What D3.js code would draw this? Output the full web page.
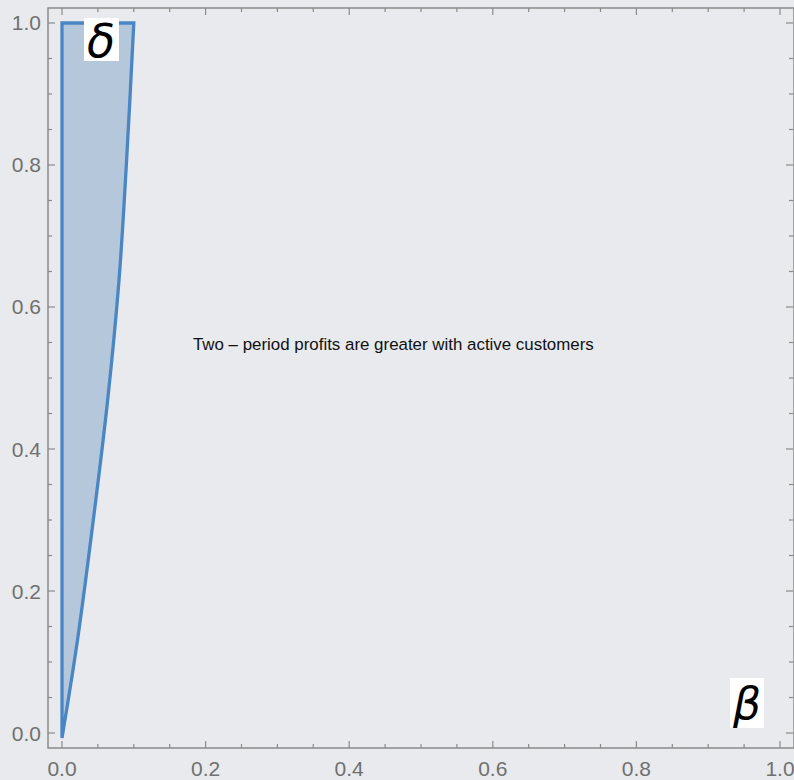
<!DOCTYPE html>
<html>
<head>
<meta charset="utf-8">
<script src="https://cdn.jsdelivr.net/npm/d3@7"></script>
<style>
  html, body { margin: 0; padding: 0; background: #e8eaed; }
  svg { display: block; }
</style>
</head>
<body>
<div id="chart"></div>
<script>
// region boundary (beta, delta), bottom to top
var boundaryBeta = [0, 0.0216, 0.0436, 0.0636, 0.0794, 0.090, 0.100];
var boundaryDelta = [-0.007, 0.131, 0.300, 0.469, 0.638, 0.807, 1.0];
var topDelta = 1.0;
var majorTicks = [0, 0.2, 0.4, 0.6, 0.8, 1.0];
var minorTicks = d3.range(0, 1.0001, 0.05);
var regionLabel = "Two \u2013 period profits are greater with active customers";

var width = 794, height = 780;
var svg = d3.select("#chart").append("svg")
    .attr("width", width)
    .attr("height", height);

svg.append("rect").attr("width", width).attr("height", height).attr("fill", "#e8eaed");

var x = d3.scaleLinear().domain([-0.0195, 1.0195]).range([48, 794]);
var y = d3.scaleLinear().domain([-0.0211, 1.0211]).range([748, 8]);

// region polygon: left edge up, across the top, down the curve
var pts = [[0, boundaryDelta[0]], [0, topDelta]];
for (var i = boundaryBeta.length - 1; i >= 0; i--) {
    pts.push([boundaryBeta[i], boundaryDelta[i]]);
}
var upper = d3.line()
    .x(function (d) { return x(d[0]); })
    .y(function (d) { return y(d[1]); });
var curve = d3.line()
    .x(function (d) { return x(d[0]); })
    .y(function (d) { return y(d[1]); })
    .curve(d3.curveCatmullRom);
var curvePts = pts.slice(2);
var path = upper(pts.slice(0, 3)) + curve(curvePts).replace(/^M[^A-Za-z]*/, "") + "Z";

svg.append("path")
    .attr("d", path)
    .attr("fill", "#b4c7db")
    .attr("stroke", "#4a86c4")
    .attr("stroke-width", 3.3)
    .attr("stroke-linejoin", "miter");

// frame with ticks
var axisColor = "#8a8a8a";
var frame = svg.append("g");
frame.append("rect")
    .attr("x", x.range()[0]).attr("y", y.range()[1])
    .attr("width", x.range()[1] - x.range()[0])
    .attr("height", y.range()[0] - y.range()[1])
    .attr("fill", "none").attr("stroke", axisColor).attr("stroke-width", 1.5);

minorTicks.forEach(function (t) {
    var major = majorTicks.some(function (m) { return Math.abs(m - t) < 1e-6; });
    var len = major ? 7 : 4;
    // bottom & top
    frame.append("line").attr("x1", x(t)).attr("x2", x(t))
        .attr("y1", y.range()[0]).attr("y2", y.range()[0] - len)
        .attr("stroke", axisColor).attr("stroke-width", 1.2);
    frame.append("line").attr("x1", x(t)).attr("x2", x(t))
        .attr("y1", y.range()[1]).attr("y2", y.range()[1] + len)
        .attr("stroke", axisColor).attr("stroke-width", 1.2);
    // left & right
    frame.append("line").attr("y1", y(t)).attr("y2", y(t))
        .attr("x1", x.range()[0]).attr("x2", x.range()[0] + len)
        .attr("stroke", axisColor).attr("stroke-width", 1.2);
    frame.append("line").attr("y1", y(t)).attr("y2", y(t))
        .attr("x1", x.range()[1] - 1).attr("x2", x.range()[1] - 1 - len)
        .attr("stroke", axisColor).attr("stroke-width", 1.2);
});

var fmt = d3.format(".1f");
svg.selectAll(".xlab").data(majorTicks).enter().append("text")
    .attr("x", function (d) { return x(d); })
    .attr("y", 776)
    .attr("text-anchor", "middle")
    .attr("font-family", "Liberation Sans, Arial, sans-serif")
    .attr("font-size", 21)
    .attr("fill", "#707070")
    .text(fmt);
svg.selectAll(".ylab").data(majorTicks).enter().append("text")
    .attr("x", 41)
    .attr("y", function (d) { return y(d) + 7.5; })
    .attr("text-anchor", "end")
    .attr("font-family", "Liberation Sans, Arial, sans-serif")
    .attr("font-size", 21)
    .attr("fill", "#707070")
    .text(fmt);

// region annotation
svg.append("text")
    .attr("x", x(0.4615)).attr("y", y(0.54))
    .attr("text-anchor", "middle")
    .attr("font-family", "Liberation Sans, Arial, sans-serif")
    .attr("font-size", 16.9)
    .attr("fill", "#111")
    .text(regionLabel);

// axis symbols in white boxes
svg.append("rect").attr("x", 84).attr("y", 18).attr("width", 35).attr("height", 43).attr("fill", "#fff");
svg.append("text").attr("x", 101).attr("y", 57)
    .attr("text-anchor", "middle")
    .attr("font-family", "DejaVu Sans, sans-serif")
    .attr("font-style", "italic")
    .attr("font-size", 46)
    .attr("fill", "#000")
    .text("\u03b4");
svg.append("rect").attr("x", 730).attr("y", 678).attr("width", 34).attr("height", 50).attr("fill", "#fff");
svg.append("text").attr("x", 747).attr("y", 719)
    .attr("text-anchor", "middle")
    .attr("font-family", "DejaVu Sans, sans-serif")
    .attr("font-style", "italic")
    .attr("font-size", 44)
    .attr("fill", "#000")
    .text("\u03b2");
</script>
</body>
</html>
